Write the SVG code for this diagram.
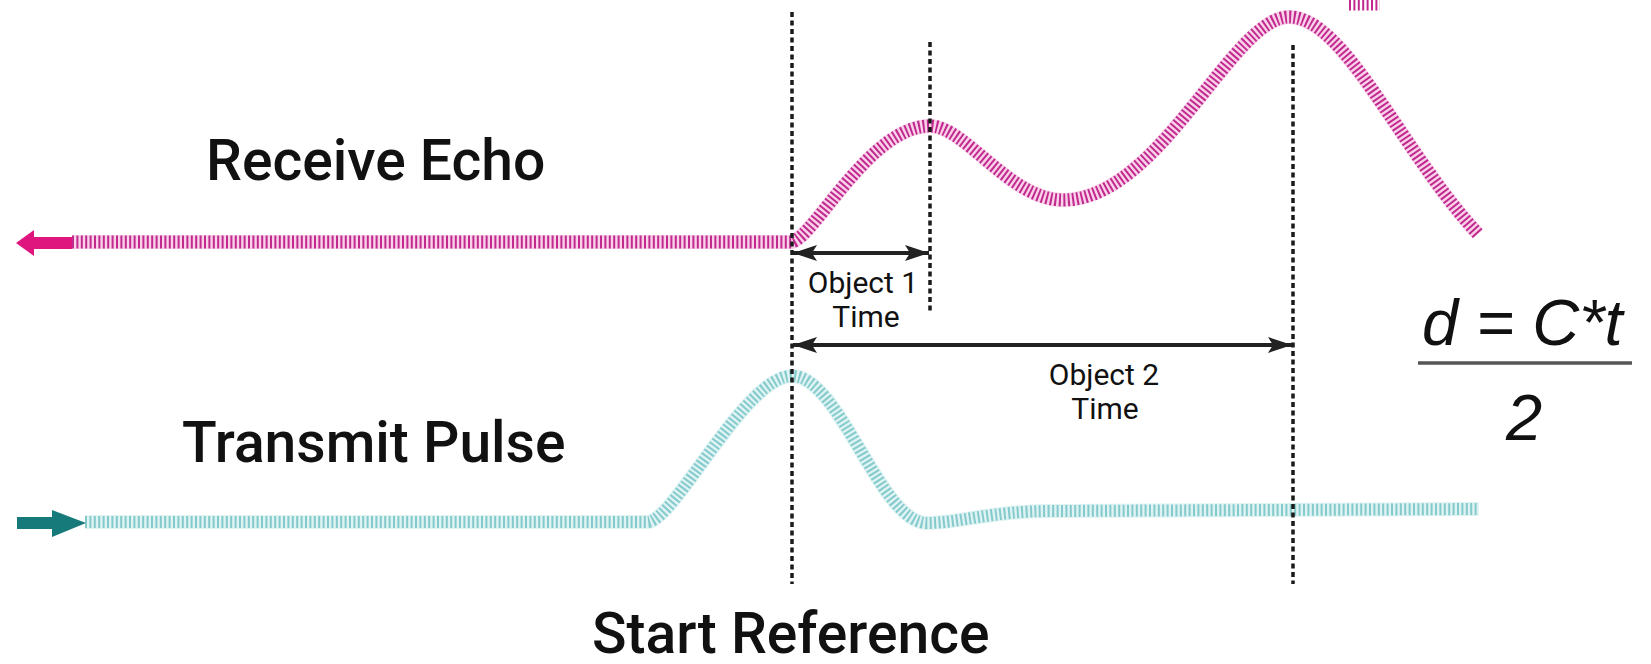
<svg xmlns="http://www.w3.org/2000/svg" width="1651" height="664" viewBox="0 0 1651 664">
  <defs>
    <style>
      .label { font-family: Roboto, "Liberation Sans", sans-serif; fill: #111; font-weight: 500; }
      .big { font-size: 57px; }
      .small { font-size: 30px; text-anchor: middle; font-weight: 400; }
      .formula { font-family: "Liberation Sans", Arial, sans-serif; font-style: italic; font-size: 65px; fill: #111; }
      .guide { fill: none; stroke: #1a1a1a; stroke-width: 3.5; stroke-dasharray: 5 3.5; }
      .span { fill: none; stroke: #222; stroke-width: 4; marker-start: url(#head-start); marker-end: url(#head-end); }
      .echo-glow { fill: none; stroke: #f9d2ea; stroke-width: 14; stroke-linejoin: round; }
      .echo-ribs { fill: none; stroke: #c2298f; stroke-width: 13; stroke-dasharray: 2 2.4; }
      .pulse-glow { fill: none; stroke: #dff3f3; stroke-width: 14; stroke-linejoin: round; }
      .pulse-ribs { fill: none; stroke: #84cacd; stroke-width: 12; stroke-dasharray: 2 2.4; }
    </style>
    <marker id="head-end" viewBox="0 0 24 16" refX="24" refY="8" markerWidth="24" markerHeight="16" markerUnits="userSpaceOnUse" orient="auto">
      <path d="M0,0 L24,8 L0,16 L5,8 Z" fill="#222"/>
    </marker>
    <marker id="head-start" viewBox="0 0 24 16" refX="0" refY="8" markerWidth="24" markerHeight="16" markerUnits="userSpaceOnUse" orient="auto">
      <path d="M24,0 L0,8 L24,16 L19,8 Z" fill="#222"/>
    </marker>
  </defs>

  <rect width="1651" height="664" fill="#ffffff"/>

  <!-- labels -->
  <g id="receive-echo-label">
    <text class="label big" x="206" y="180">Receive Echo</text>
  </g>
  <g id="transmit-pulse-label">
    <text class="label big" x="182" y="462">Transmit Pulse</text>
  </g>
  <g id="start-reference-label">
    <text class="label big" x="592" y="653">Start Reference</text>
  </g>

  <!-- formula d = C*t / 2 -->
  <g id="formula">
    <text class="formula" x="1422" y="345">d = C*t</text>
    <line x1="1418" y1="363" x2="1632" y2="363" stroke="#555" stroke-width="3.5"/>
    <text class="formula" x="1524" y="440" text-anchor="middle">2</text>
  </g>

  <!-- echo waveform (magenta) with leftward arrow -->
  <g id="receive-echo-wave">
    <path class="echo-glow" d="M72,242 L792,242 C815,236 870,126 930,126 C965,126 1010,200 1063,200 C1160,200 1232,17 1289,17 C1345,17 1400,150 1478,234"/>
    <path class="echo-ribs" d="M72,242 L792,242 C815,236 870,126 930,126 C965,126 1010,200 1063,200 C1160,200 1232,17 1289,17 C1345,17 1400,150 1478,234"/>
    <path class="echo-ribs" d="M1349,4 L1380,4" stroke-width="7"/>
    <path d="M16,243 L34,230 L34,237 L72,237 L72,249 L34,249 L34,256 Z" fill="#e0167f"/>
  </g>

  <!-- transmitted pulse waveform (teal) with rightward arrow -->
  <g id="transmit-pulse-wave">
    <path class="pulse-glow" d="M85,522 L648,522 C675,520 745,376 792,376 C840,376 880,523 927,523 C960,523 990,511 1053,511 L1479,509"/>
    <path class="pulse-ribs" d="M85,522 L648,522 C675,520 745,376 792,376 C840,376 880,523 927,523 C960,523 990,511 1053,511 L1479,509"/>
    <path d="M17,517 L52,517 L52,510 L86,523 L52,537 L52,529 L17,529 Z" fill="#16797a"/>
  </g>

  <!-- timing guides and spans -->
  <g id="connectors">
    <line class="guide" x1="792" y1="12" x2="792" y2="584"/>
    <line class="guide" x1="930" y1="42" x2="930" y2="311"/>
    <line class="guide" x1="1293" y1="45" x2="1293" y2="584"/>
    <line class="span" x1="793" y1="253" x2="929" y2="253"/>
    <line class="span" x1="793" y1="345" x2="1292" y2="345"/>
  </g>

  <g id="object-1-time">
    <text class="label small" x="863" y="293">Object 1</text>
    <text class="label small" x="866" y="327">Time</text>
  </g>
  <g id="object-2-time">
    <text class="label small" x="1104" y="385">Object 2</text>
    <text class="label small" x="1105" y="419">Time</text>
  </g>
</svg>
